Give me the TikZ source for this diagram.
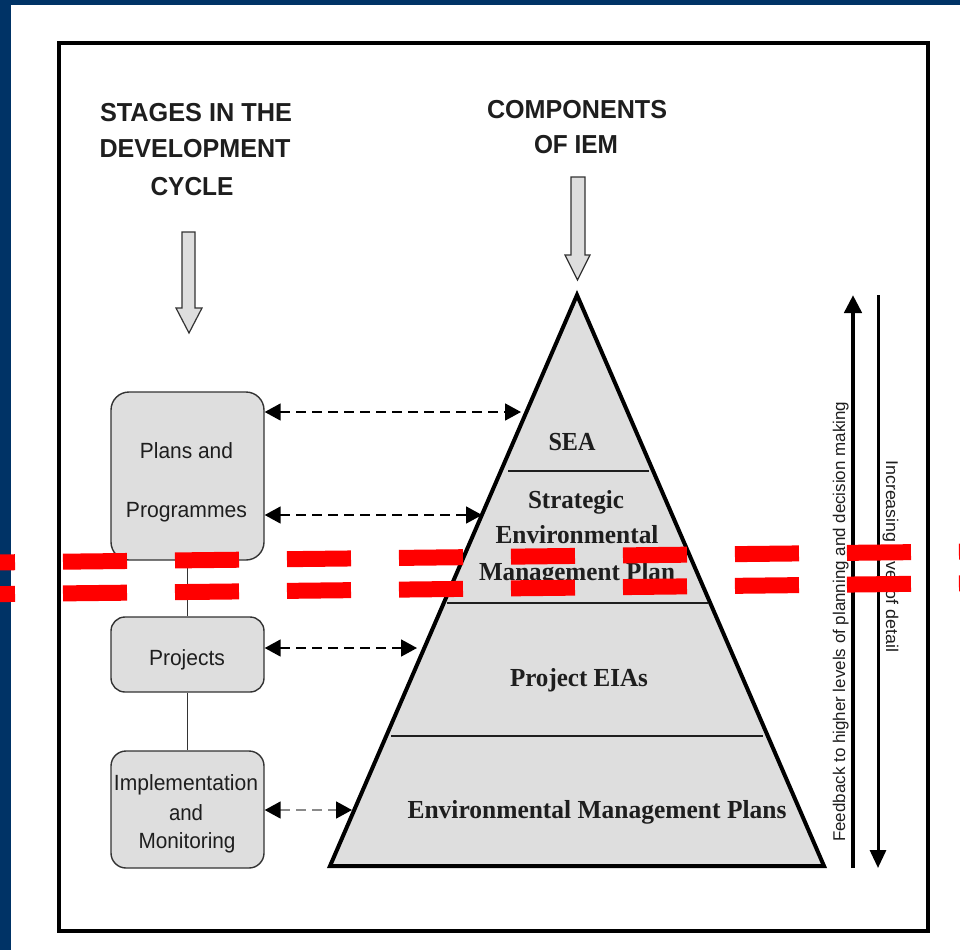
\documentclass[tikz,border=0pt]{standalone}
\usepackage{fontspec}
\setmainfont{Liberation Serif}
\setsansfont{Liberation Sans}
\usepackage{graphicx}
\usetikzlibrary{arrows.meta}
\definecolor{bgblue}{HTML}{003366}
\definecolor{boxgray}{HTML}{DEDEDE}
\definecolor{ink}{HTML}{1E1E1E}
\definecolor{edgegray}{HTML}{333333}
\definecolor{lightlink}{HTML}{8A8A8A}
\definecolor{redmark}{HTML}{FF0000}
\newcommand\fitw[2]{\resizebox{#1pt}{\height}{#2}}
\tikzset{
  hdr/.style={font=\sffamily\bfseries\fontsize{26}{26}\selectfont, text=ink, inner sep=0pt, anchor=base},
  btxt/.style={font=\sffamily\fontsize{22}{22}\selectfont, text=ink, inner sep=0pt, anchor=base},
  ttxt/.style={font=\rmfamily\bfseries\fontsize{26}{26}\selectfont, text=ink, inner sep=0pt, anchor=base},
  vtxt/.style={font=\sffamily\fontsize{17}{17}\selectfont, text=ink, inner sep=0pt, anchor=base west},
  stagebox/.style={draw=edgegray, fill=boxgray, line width=1.4pt, minimum width=153pt, inner sep=0pt},
  blockarrow/.style={draw=edgegray, fill=boxgray, line width=1.2pt, line join=miter},
  divline/.style={draw=ink, line width=1.3pt},
  link/.style={draw=black, line width=1.8pt, dash pattern=on 10pt off 6pt,
    {Triangle[length=16pt,width=17pt]}-{Triangle[length=16pt,width=17pt]}},
  faintlink/.style={draw=lightlink, line width=1.8pt, dash pattern=on 10pt off 6pt,
    {Triangle[length=16pt,width=17pt,color=black]}-{Triangle[length=16pt,width=17pt,color=black]}},
  redband/.style={draw=redmark, line width=16pt, dash pattern=on 64pt off 48pt, dash phase=49pt}
}
\begin{document}
\begin{tikzpicture}[x=1pt,y=-1pt]
\fill[bgblue] (0,0) rectangle (960,950);
\fill[white] (11,5) rectangle (960,950);
\useasboundingbox (0,0) rectangle (960,950);

% frame
\draw[line width=4pt] (59,43) rectangle (928,931);

% headers
\node[hdr] (h1) at (196,121) {\fitw{192}{STAGES IN THE}};
\node[hdr] (h2) at (195,157) {\fitw{191}{DEVELOPMENT}};
\node[hdr] (h3) at (192,195) {\fitw{83}{CYCLE}};
\node[hdr] (h4) at (577,118) {\fitw{180}{COMPONENTS}};
\node[hdr] (h5) at (576,153) {\fitw{84}{OF IEM}};

% block arrows
\filldraw[blockarrow] (182,232) -- (195,232) -- (195,308) -- (202,308) -- (189,333) -- (176,308) -- (182,308) -- cycle;
\filldraw[blockarrow] (571,177) -- (585,177) -- (585,255) -- (590,255) -- (577.5,280) -- (565,255) -- (571,255) -- cycle;

% stage boxes
\node[stagebox, rounded corners=18pt, minimum height=168pt] (plans) at (187.5,476) {};
\node[stagebox, rounded corners=14pt, minimum height=75pt] (proj) at (187.5,654.5) {};
\node[stagebox, rounded corners=15pt, minimum height=117pt] (impl) at (187.5,809.5) {};
\draw[edgegray, line width=1.4pt] (plans.south) -- (proj.north);
\draw[edgegray, line width=1.4pt] (proj.south) -- (impl.north);

\node[btxt] (t1) at (186.5,458) {\fitw{93}{Plans and}};
\node[btxt] (t2) at (186.5,517) {\fitw{121}{Programmes}};
\node[btxt] (t3) at (187,665) {\fitw{76}{Projects}};
\node[btxt] (t4) at (186,790) {\fitw{144}{Implementation}};
\node[btxt] (t5) at (186,820) {\fitw{34}{and}};
\node[btxt] (t6) at (187,848) {\fitw{97}{Monitoring}};

% pyramid
\filldraw[draw=black, fill=boxgray, line width=4pt, line join=miter] (577,295) -- (824,866) -- (330,866) -- cycle;
\draw[divline] (508,471) -- (649,471);
\draw[divline] (447,603) -- (708,603);
\draw[divline] (391,736) -- (763,736);

\node[ttxt] (p1) at (572,450) {\fitw{47}{SEA}};
\node[ttxt] (p2) at (576,508) {\fitw{96}{Strategic}};
\node[ttxt] (p3) at (577,543) {\fitw{163}{Environmental}};
\node[ttxt] (p4) at (577,580) {\fitw{196}{Management Plan}};
\node[ttxt] (p5) at (579,686) {\fitw{138}{Project EIAs}};
\node[ttxt] (p6) at (597,818) {\fitw{379}{Environmental Management Plans}};

% links
\coordinate (e1) at (521,412);
\coordinate (e2) at (482,515);
\coordinate (e3) at (417,648);
\coordinate (e4) at (352,810);
\draw[link] (plans.east |- e1) -- (e1);
\draw[link] (plans.east |- e2) -- (e2);
\draw[link] (proj.east |- e3) -- (e3);
\draw[faintlink] (impl.east |- e4) -- (e4);

% side arrows
\coordinate (upS) at (853,868);
\coordinate (upE) at (853,295);
\coordinate (dnS) at (878,295);
\coordinate (dnE) at (878,868);
\draw[line width=4.5pt, -{Triangle[length=18pt,width=17pt]}] (upS) -- (upE);
\draw[line width=3pt, -{Triangle[length=18pt,width=16pt]}] (dnS) -- (dnE);
\node[vtxt, rotate=90] (fb) at (845,842) {\fitw{440}{Feedback to higher levels of planning and decision making}};
\node[vtxt, rotate=-90] (inc) at (886,460) {\fitw{192}{Increasing level of detail}};

% red overlay
\begin{scope}
\clip (0,0) rectangle (960,950);
\draw[redband] (0,562.4) -- (960,551.6);
\draw[redband] (0,594.1) -- (960,583.3);
\end{scope}
\end{tikzpicture}
\end{document}
